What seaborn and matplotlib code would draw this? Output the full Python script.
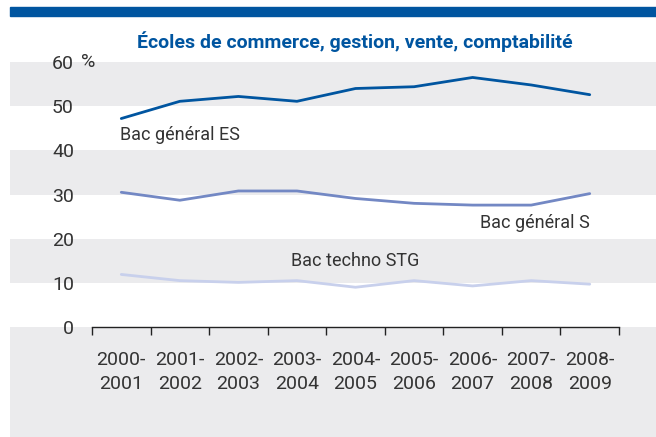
import matplotlib
matplotlib.use("Agg")
import matplotlib.pyplot as plt
import seaborn as sns
import pandas as pd
import numpy as np

years = ["2000-\n2001", "2001-\n2002", "2002-\n2003", "2003-\n2004", "2004-\n2005",
         "2005-\n2006", "2006-\n2007", "2007-\n2008", "2008-\n2009"]
es = [47.2, 51.1, 52.2, 51.1, 54.0, 54.4, 56.5, 54.8, 52.6]
s = [30.5, 28.7, 30.8, 30.8, 29.1, 28.0, 27.6, 27.6, 30.2]
stg = [11.9, 10.5, 10.1, 10.5, 9.0, 10.5, 9.3, 10.5, 9.7]
series_names = ["Bac général ES", "Bac général S", "Bac techno STG"]
yticks = [0, 10, 20, 30, 40, 50, 60]
title = "Écoles de commerce, gestion, vente, comptabilité"

sns.set_theme(style="white")
FONT = ["Roboto", "DejaVu Sans"]
plt.rcParams["font.family"] = FONT

TXT = "#333333"
BLUE = "#0055A0"
MID = "#7388C4"
LIGHT = "#C8D0EC"
BAND = "#EBEBED"

df = pd.concat([
    pd.DataFrame({"x": np.arange(len(years)), "v": vals, "serie": name})
    for name, vals in zip(series_names, [es, s, stg])
])

fig = plt.figure(figsize=(6.56, 4.37), dpi=100)
W, H = 656, 437
ax_left, ax_right = 92, 619
y0_px, y60_px = 327, 62
ax = fig.add_axes([ax_left / W, 1 - y0_px / H, (ax_right - ax_left) / W, (y0_px - y60_px) / H])
ax.set_facecolor("none")
ax.patch.set_alpha(0)

# top blue bar
fig.patches.append(plt.Rectangle((10 / W, 1 - 16 / H), (W - 10) / W, 9 / H,
                                 transform=fig.transFigure, color=BLUE, zorder=0))

ax.set_xlim(-0.5, len(years) - 0.5)
ax.set_ylim(0, 60)

xmin_b = (10 - ax_left) / (ax_right - ax_left)
xmax_b = (W - ax_left) / (ax_right - ax_left)
for lo, hi in [(50, 60), (30, 40), (10, 20), (-40, 0)]:
    ax.axhspan(lo, hi, xmin=xmin_b, xmax=xmax_b, color=BAND, clip_on=False, zorder=0, lw=0)

sns.lineplot(data=df, x="x", y="v", hue="serie", palette=[BLUE, MID, LIGHT],
             linewidth=2.0, legend=False, ax=ax, zorder=3)

for sp in ["top", "right", "left"]:
    ax.spines[sp].set_visible(False)
ax.spines["bottom"].set_color("#222222")
ax.spines["bottom"].set_linewidth(1.0)

ax.set_xticks(np.arange(-0.5, len(years), 1.0))
ax.set_xticklabels([])
ax.tick_params(axis="x", which="major", direction="out", length=6, width=1, color="#222222", bottom=True)
ax.set_xticks(np.arange(len(years)), minor=True)
ax.set_xticklabels(years, minor=True, fontsize=14, color=TXT, linespacing=1.45)
ax.tick_params(axis="x", which="minor", length=0, pad=17)

ax.set_yticks(yticks)
ax.set_yticklabels([str(t) for t in yticks], fontsize=14, color=TXT)
ax.tick_params(axis="y", length=0, pad=13)
ax.text(-0.021, 60, "%", transform=ax.get_yaxis_transform(), ha="left", va="center",
        fontsize=14, color=TXT)

ax.set_xlabel("")
ax.set_ylabel("")

ax.text(-0.03, 43.4, series_names[0], ha="left", va="center", fontsize=13, color=TXT)
ax.text(8.0, 23.5, series_names[1], ha="right", va="center", fontsize=13, color=TXT)
ax.text(4.0, 15.0, series_names[2], ha="center", va="center", fontsize=13, color=TXT)

fig.text(355 / W, 1 - 42 / H, title, ha="center", va="center", fontsize=14,
         fontweight="bold", color=BLUE)

fig.savefig("out.png", dpi=100)
